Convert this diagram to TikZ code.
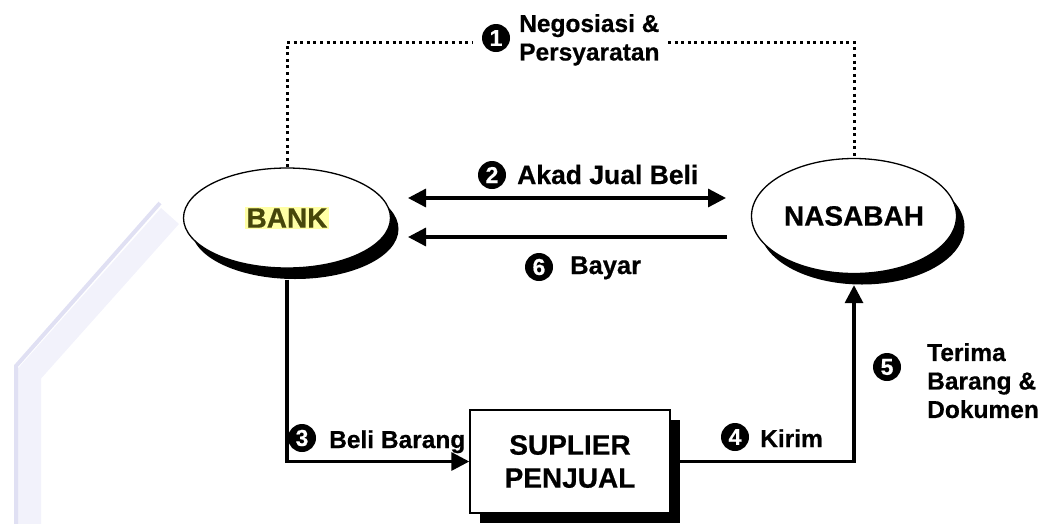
\documentclass[tikz,border=0pt]{standalone}
\usepackage{fontspec}
\setmainfont[BoldFeatures={FakeBold=0.6}]{Liberation Sans}
\usetikzlibrary{shapes.geometric,shadows,arrows.meta}
\definecolor{bankfg}{RGB}{70,70,10}
\definecolor{bankbg}{RGB}{255,255,165}
\definecolor{wmedge}{RGB}{224,224,243}
\definecolor{wmfill}{RGB}{242,242,251}
\begin{document}
\begin{tikzpicture}[x=1pt,y=-1pt,
  ell/.style={ellipse, draw=black, line width=1.3pt, fill=white, inner sep=0pt,
    drop shadow={shadow xshift=8pt, shadow yshift=-11pt, fill=black, opacity=1}},
  boxnode/.style={rectangle, draw=black, line width=1.4pt, fill=white, align=center,
    minimum width=200pt, minimum height=103pt, inner sep=0pt,
    font=\bfseries\fontsize{28}{33}\selectfont,
    drop shadow={shadow xshift=10pt, shadow yshift=-10pt, fill=black, opacity=1}},
  big/.style={font=\bfseries\fontsize{28}{33}\selectfont},
  lbl/.style={font=\bfseries\fontsize{24.5}{28.5}\selectfont, inner sep=0pt, align=left},
  num/.style={circle, fill=black, text=white, inner sep=0pt, minimum size=28pt,
    font=\bfseries\fontsize{23}{23}\selectfont},
  arr/.style={line width=3.3pt, -{Triangle[length=18pt,width=18pt]}},
  dbl/.style={line width=3.3pt, {Triangle[length=18pt,width=18pt]}-{Triangle[length=18pt,width=18pt]}},
  dotl/.style={line width=3pt, dash pattern=on 3pt off 3.6pt}
]
\useasboundingbox (0,0) rectangle (1049,523);
% faint watermark band
\draw[wmfill, line width=24pt, line join=miter] (170,216) -- (29,374) -- (29,540);
\draw[wmedge, line width=4pt, line join=miter] (160,203) -- (16,366) -- (16,540);

% main nodes
\node[ell, minimum width=207pt, minimum height=100pt] (bank) at (287,218) {};
\node[big, fill=bankbg, text=bankfg, inner sep=1.5pt] (banktxt) at (bank.center) {BANK};
\node[ell, big, minimum width=205pt, minimum height=115pt] (nas) at (854,216) {NASABAH};
\node[boxnode] (sup) at (570,461.5) {SUPLIER\\PENJUAL};

% helper coordinates
\coordinate (d1) at (287,42);
\coordinate (d1e) at (472,42);
\coordinate (d2s) at (668,42);
\coordinate (d2) at (854,42);
\coordinate (a2l) at (408,198);
\coordinate (a2r) at (726,198);
\coordinate (a6l) at (408,237);
\coordinate (a6r) at (727,237);

% dotted negotiation line
\draw[dotl] (bank.north) -- (d1) -- (d1e);
\draw[dotl] (d2s) -- (d2) -- (nas.north);

% horizontal arrows
\draw[dbl] (a2l) -- (a2r);
\draw[arr] (a6r) -- (a6l);

% bank -> suplier
\draw[arr] ([yshift=-11pt]bank.south) |- (sup.west);
% suplier -> nasabah
\draw[arr] (sup.east) -| ([yshift=-11pt]nas.south);

% labels
\node[num] (n1) at (496,38) {1};
\node[lbl, anchor=north west] (l1) at (519,14) {Negosiasi \&\\Persyaratan};
\node[num] (n2) at (492,175) {2};
\node[lbl, anchor=base west, font=\bfseries\fontsize{26.5}{30}\selectfont] (l2) at (517,184) {Akad Jual Beli};
\node[num] (n6) at (539,267) {6};
\node[lbl, anchor=base west, font=\bfseries\fontsize{25.5}{30}\selectfont] (l6) at (570,274) {Bayar};
\node[num] (n3) at (302,438) {3};
\node[lbl, anchor=base west] (l3) at (329,448) {Beli Barang};
\node[num] (n4) at (735,437) {4};
\node[lbl, anchor=base west] (l4) at (760,447) {Kirim};
\node[num] (n5) at (887,367) {5};
\node[lbl, anchor=north west] (l5) at (927,343) {Terima\\Barang \&\\Dokumen};
\end{tikzpicture}
\end{document}
